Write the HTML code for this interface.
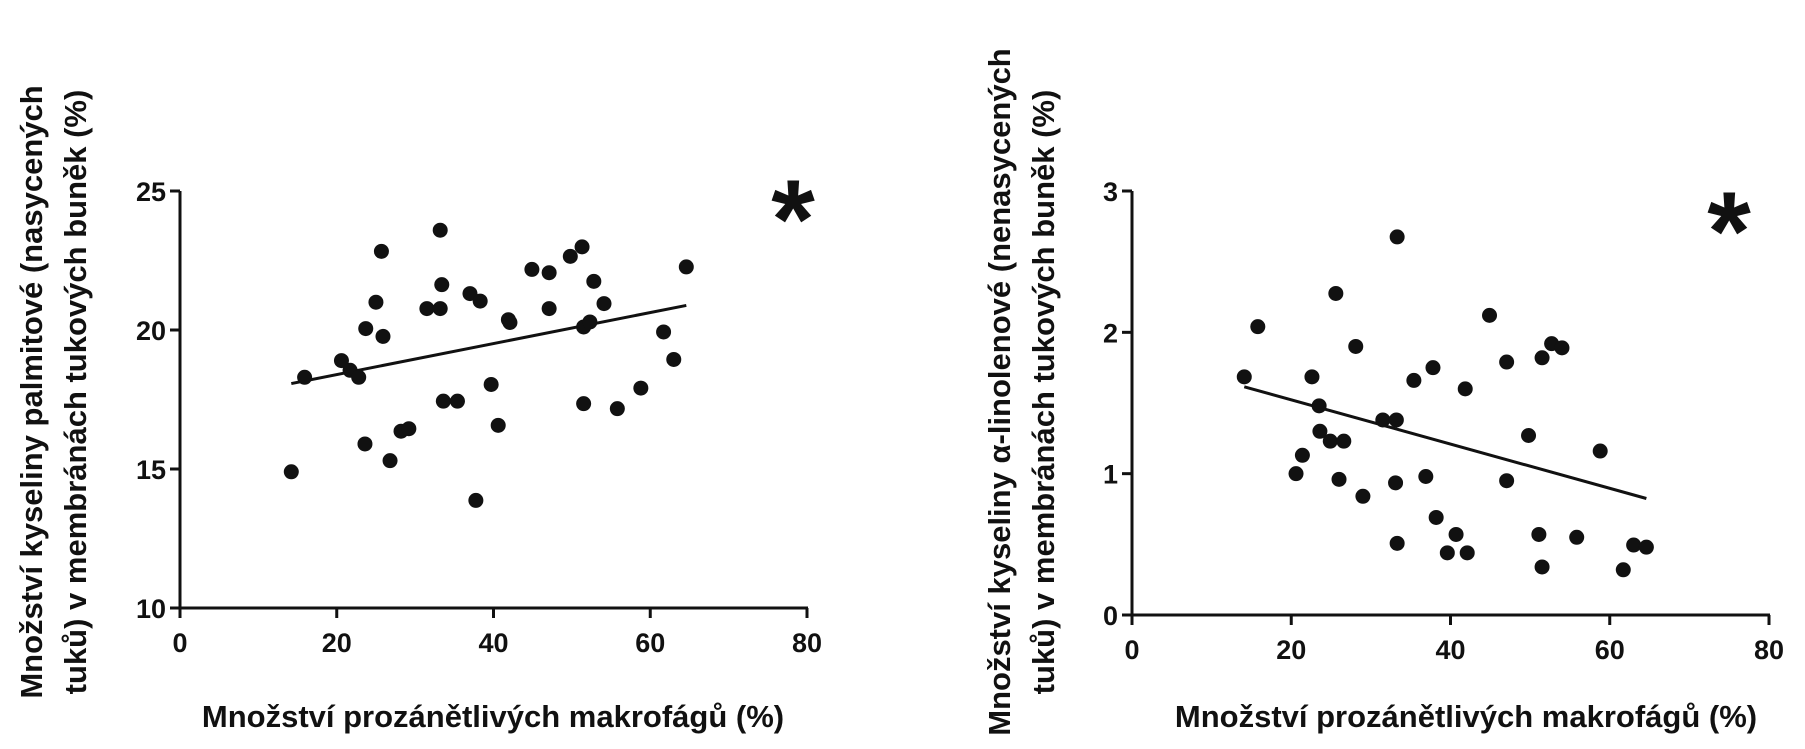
<!DOCTYPE html>
<html><head><meta charset="utf-8"><style>
html,body{margin:0;padding:0;background:#fff;}
svg{display:block;}
text{font-family:"Liberation Sans",Arial,sans-serif;fill:#111;}
</style></head><body>
<svg id="fig" width="1805" height="749" viewBox="0 0 1805 749">
<rect width="1805" height="749" fill="#fff"/>
</svg>
<script>
const leftX = [14.2,15.9,20.6,21.7,22.8,23.6,23.7,25.0,25.7,25.9,26.8,28.2,29.2,31.5,33.2,33.2,33.4,33.6,35.4,37.0,38.3,37.75,39.7,40.6,41.9,42.1,44.9,47.1,47.1,49.8,51.3,51.5,52.3,51.5,52.8,54.1,55.8,58.8,61.7,63.0,64.6];
const leftY = [14.9,18.3,18.9,18.55,18.3,15.9,20.05,21.0,22.83,19.77,15.3,16.36,16.45,20.77,20.77,23.59,21.63,17.44,17.44,21.31,21.04,13.87,18.04,16.57,20.37,20.27,22.18,22.06,20.77,22.65,22.99,20.11,20.29,17.35,21.75,20.95,17.17,17.91,19.93,18.94,22.27];
const rightX = [14.1,15.8,22.6,23.5,23.6,24.9,26.6,21.4,20.6,25.6,26.0,28.1,29.0,31.5,33.2,33.3,33.1,33.3,35.4,36.9,37.8,38.2,40.7,39.6,42.1,41.85,44.9,47.05,47.05,49.8,51.5,52.7,54.0,51.1,51.5,58.8,55.85,63.0,64.6,61.7];
const rightY = [1.685,2.04,1.685,1.48,1.30,1.23,1.23,1.13,1.0,2.275,0.96,1.90,0.84,1.38,1.38,2.675,0.935,0.507,1.66,0.98,1.75,0.69,0.57,0.44,0.44,1.60,2.12,1.79,0.95,1.27,1.82,1.92,1.89,0.57,0.34,1.16,0.55,0.495,0.48,0.32];
const xTicks = [0,20,40,60,80];
const leftYTicks = [10,15,20,25];
const rightYTicks = [0,1,2,3];

const NS = 'http://www.w3.org/2000/svg';
const svg = document.getElementById('fig');
function mk(tag, attrs, parent){
  const e = document.createElementNS(NS, tag);
  for (const k in attrs) e.setAttribute(k, attrs[k]);
  (parent||svg).appendChild(e);
  return e;
}

function drawChart(cfg){
  const g = mk('g', {});
  
  
  const sx = v => cfg.x0 + (v - 0) * (cfg.x1 - cfg.x0) / 80;
  const sy = v => cfg.yB - (v - cfg.ymin) * (cfg.yB - cfg.yT) / (cfg.ymax - cfg.ymin);
  const ya = mk('line', {x1:cfg.x0, y1:sy(cfg.ymax), x2:cfg.x0, y2:cfg.yB, stroke:'#111','stroke-width':3}, g);
  
  
  const xa = mk('line', {x1:cfg.x0-1, y1:cfg.yB, x2:sx(80)+1, y2:cfg.yB, stroke:'#111','stroke-width':3}, g);
  
  
  xTicks.forEach(t => {
    mk('line', {x1:sx(t), y1:cfg.yB, x2:sx(t), y2:cfg.yB+10, stroke:'#111','stroke-width':3}, g);
    const tx = mk('text', {x:sx(t), y:cfg.yB+44, 'text-anchor':'middle', 'font-size':27, 'font-weight':'bold'}, g);
    tx.textContent = t;
    
    
  });
  cfg.yTicks.forEach(t => {
    mk('line', {x1:cfg.x0-10, y1:sy(t), x2:cfg.x0, y2:sy(t), stroke:'#111','stroke-width':3}, g);
    const tx = mk('text', {x:cfg.x0-14, y:sy(t)+10, 'text-anchor':'end', 'font-size':27, 'font-weight':'bold'}, g);
    tx.textContent = t;
    
    
  });
  const xs = cfg.xs, ys = cfg.ys, n = xs.length;
  let mx=0,my=0; for(let i=0;i<n;i++){mx+=xs[i];my+=ys[i];} mx/=n; my/=n;
  let sxy=0,sxx=0; for(let i=0;i<n;i++){sxy+=(xs[i]-mx)*(ys[i]-my);sxx+=(xs[i]-mx)*(xs[i]-mx);}
  const b = sxy/sxx, a = my - b*mx;
  const xmin = Math.min(...xs), xmax = Math.max(...xs);
  const rl = mk('line', {x1:sx(xmin), y1:sy(a+b*xmin), x2:sx(xmax), y2:sy(a+b*xmax), stroke:'#111','stroke-width':3}, g);
  
  
  for (let i=0;i<n;i++){
    const c = mk('circle', {cx:sx(xs[i]), cy:sy(ys[i]), r:7.5, fill:'#111'}, g);
    
    
  }
  const st = mk('text', {x:cfg.starX, y:cfg.starY, 'text-anchor':'middle', 'font-size':112, 'font-weight':'bold'}, g);
  st.textContent = '*';
  
  
  const xt = mk('text', {x:cfg.xTitleX, y:727, 'text-anchor':'middle', 'font-size':31, 'font-weight':'bold'}, g);
  xt.textContent = 'Množství prozánětlivých makrofágů (%)';
  
  
  cfg.yTitle.forEach((line, k) => {
    const cx = cfg.yTitleX + k*44;
    const t = mk('text', {x:0, y:0, 'text-anchor':'middle', 'font-size':31, 'font-weight':'bold',
      transform:'translate(' + cx + ',392) rotate(-90)'}, g);
    t.textContent = line;
    
    
  });
}

drawChart({name:'palmitic-chart', x0:180, x1:807, yT:191, yB:608, ymin:10, ymax:25, yTicks:leftYTicks,
  xs:leftX, ys:leftY, starX:793, starY:258, xTitleX:493,
  yTitle:['Množství kyseliny palmitové (nasycených','tuků) v membránách tukových buněk (%)'], yTitleX:42});
drawChart({name:'linolenic-chart', x0:1132, x1:1769, yT:191, yB:615, ymin:0, ymax:3, yTicks:rightYTicks,
  xs:rightX, ys:rightY, starX:1729, starY:270, xTitleX:1466,
  yTitle:['Množství kyseliny α-linolenové (nenasycených','tuků) v membránách tukových buněk (%)'], yTitleX:1010});
</script>
</body></html>
